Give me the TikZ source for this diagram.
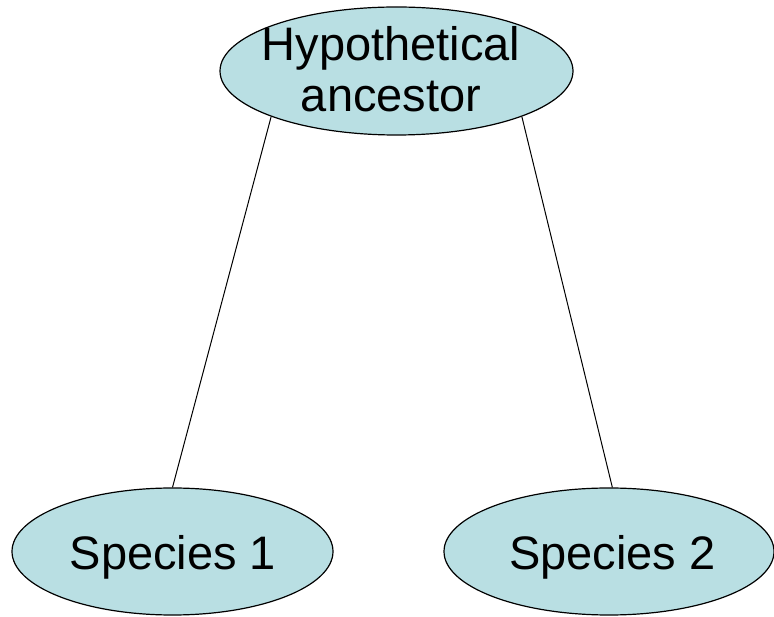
\documentclass[tikz,border=0pt]{standalone}
\usepackage{fontspec}
\setmainfont{Liberation Sans}
\usetikzlibrary{shapes}
\definecolor{cladefill}{RGB}{185,223,227}

\begin{document}
\begin{tikzpicture}[x=1pt,y=1pt]

\useasboundingbox (0,0) rectangle (774,616);
\tikzstyle{taxon}=[ellipse, draw, fill=cladefill, line width=1.2pt,
                   inner sep=0pt]
\tikzstyle{taxonlabel}=[font=\fontsize{47}{51}\selectfont, align=center,
                        inner sep=0pt]

% ancestor on top, the two species below
\node[taxon, minimum width=353pt, minimum height=128pt] (A) at (396.5,545) {};
\node[taxon, minimum width=321pt, minimum height=127pt] (S1) at (172.5,64.5) {};
\node[taxon, minimum width=330pt, minimum height=127pt] (S2) at (609,64.5) {};

\node[taxonlabel] (At) at (391,546.5) {Hypothetical\\ancestor};
\node[taxonlabel, anchor=base] (S1t) at (173,46) {Species 1};
\node[taxonlabel, anchor=base] (S2t) at (612.5,46) {Species 2};

\foreach \i/\a/\j/\b in {A/200/S1/90,A/340/S2/87}{\draw[line width=1pt] (\i.\a) -- (\j.\b);}

\end{tikzpicture}
\end{document}
